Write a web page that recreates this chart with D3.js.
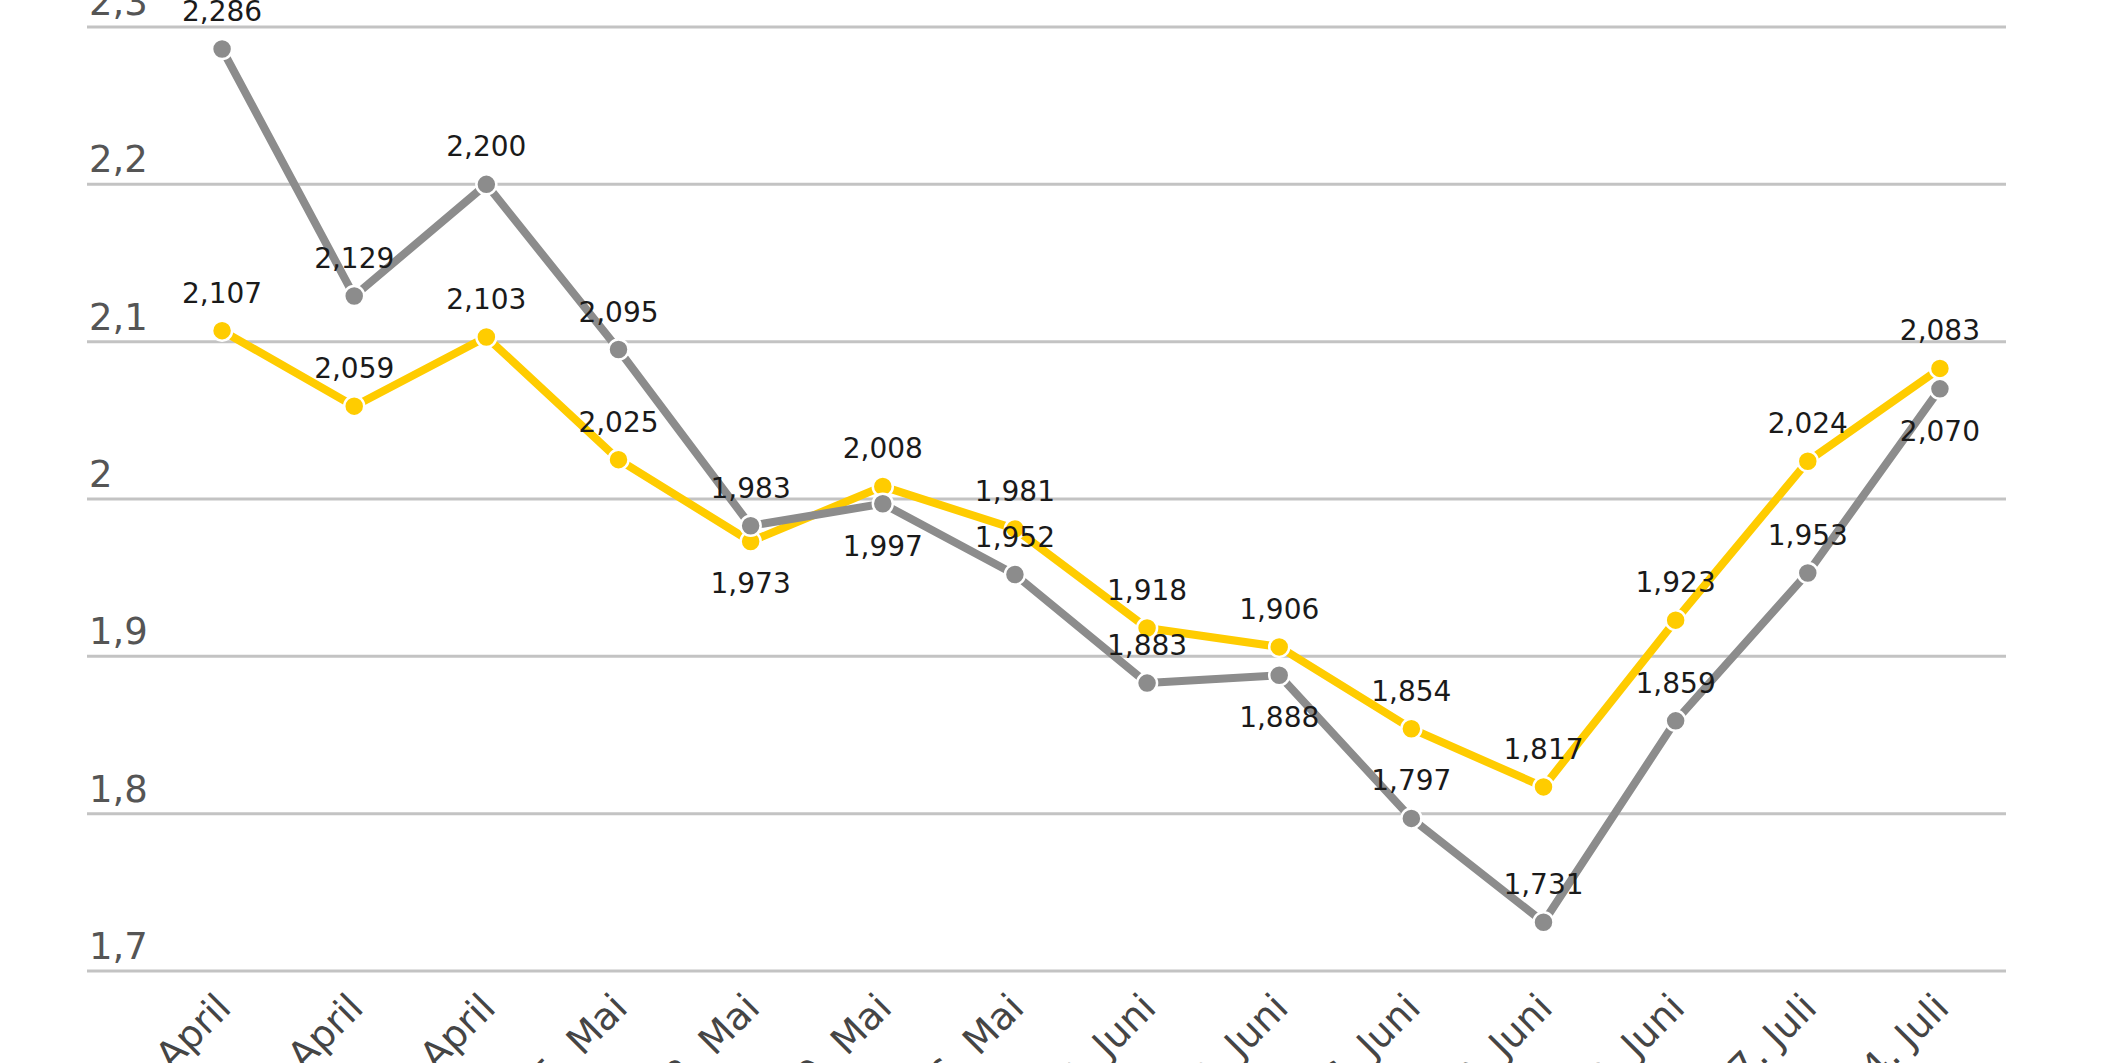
<!DOCTYPE html>
<html>
<head>
<meta charset="utf-8">
<script src="https://cdn.jsdelivr.net/npm/d3@7"></script>
<style>
  html, body { margin: 0; padding: 0; background: #fff; overflow: hidden; }
</style>
</head>
<body>
<svg id="chart"></svg>
<script>
// Kategorien (wöchentlich)
const dates = ["14. April", "21. April", "28. April", "5. Mai", "12. Mai", "19. Mai", "26. Mai",
  "2. Juni", "9. Juni", "16. Juni", "23. Juni", "30. Juni", "7. Juli", "14. Juli"];

// graue Reihe
const greyValues = [2.286, 2.129, 2.200, 2.095, 1.983, 1.997, 1.952, 1.883, 1.888, 1.797, 1.731, 1.859, 1.953, 2.070];
// gelbe Reihe
const yellowValues = [2.107, 2.059, 2.103, 2.025, 1.973, 2.008, 1.981, 1.918, 1.906, 1.854, 1.817, 1.923, 2.024, 2.083];

const yTicks = [1.7, 1.8, 1.9, 2.0, 2.1, 2.2, 2.3];

const width = 2126, height = 1063;

const de = d3.formatLocale({ decimal: ",", thousands: ".", grouping: [3], currency: ["", " €"] });
const fmtTick = de.format(".2~f");
const fmtVal = de.format(".3f");

const svg = d3.select("#chart")
  .attr("width", width)
  .attr("height", height)
  .style("font-family", "'DejaVu Sans', sans-serif");

const x = d3.scaleBand()
  .domain(dates)
  .range([156, 2006]);

const y = d3.scaleLinear()
  .domain([1.7, 2.3])
  .range([971, 27]);

const cx = d => x(d) + x.bandwidth() / 2;

// Gitternetzlinien + Beschriftung
const grid = svg.append("g");
grid.selectAll("line")
  .data(yTicks)
  .enter().append("line")
  .attr("x1", 87)
  .attr("x2", 2006)
  .attr("y1", d => y(d))
  .attr("y2", d => y(d))
  .style("stroke", "#c3c3c3")
  .style("stroke-width", 3);

grid.selectAll("text")
  .data(yTicks)
  .enter().append("text")
  .attr("x", 89)
  .attr("y", d => y(d) - 12)
  .text(d => fmtTick(d))
  .style("fill", "#555")
  .style("font-size", "37px");

// x-Achse, gedreht (unten vom Bildrand angeschnitten)
svg.append("g").selectAll("text")
  .data(dates)
  .enter().append("text")
  .attr("transform", d => `translate(${cx(d) + 11},1010) rotate(-45)`)
  .attr("text-anchor", "end")
  .text(d => d)
  .style("fill", "#454545")
  .style("font-size", "38px");

// Position der Werte: über oder unter dem Punkt
const greyBelow = [5, 8, 13];
const yellowBelow = [4];

function drawSeries(values, color) {
  const pts = values.map((v, i) => ({ d: dates[i], v, i }));
  const g = svg.append("g");

  g.append("path")
    .datum(pts)
    .attr("d", d3.line().x(p => cx(p.d)).y(p => y(p.v)))
    .style("fill", "none")
    .style("stroke", color)
    .style("stroke-width", 8)
    .style("stroke-linejoin", "round");

  g.selectAll("circle")
    .data(pts)
    .enter().append("circle")
    .attr("cx", p => cx(p.d))
    .attr("cy", p => y(p.v))
    .attr("r", 10)
    .style("fill", color)
    .style("stroke", "#fff")
    .style("stroke-width", 2.5);

  return pts;
}

const yellowPts = drawSeries(yellowValues, "#ffcc00");
const greyPts = drawSeries(greyValues, "#8c8c8c");

function drawLabels(pts, below) {
  svg.append("g").selectAll("text")
    .data(pts)
    .enter().append("text")
    .attr("x", p => cx(p.d))
    .attr("y", p => below.includes(p.i) ? y(p.v) + 52 : y(p.v) - 28)
    .attr("text-anchor", "middle")
    .text(p => fmtVal(p.v))
    .style("fill", "#1a1a1a")
    .style("font-size", "28px");
}

drawLabels(yellowPts, yellowBelow);
drawLabels(greyPts, greyBelow);
</script>
</body>
</html>
